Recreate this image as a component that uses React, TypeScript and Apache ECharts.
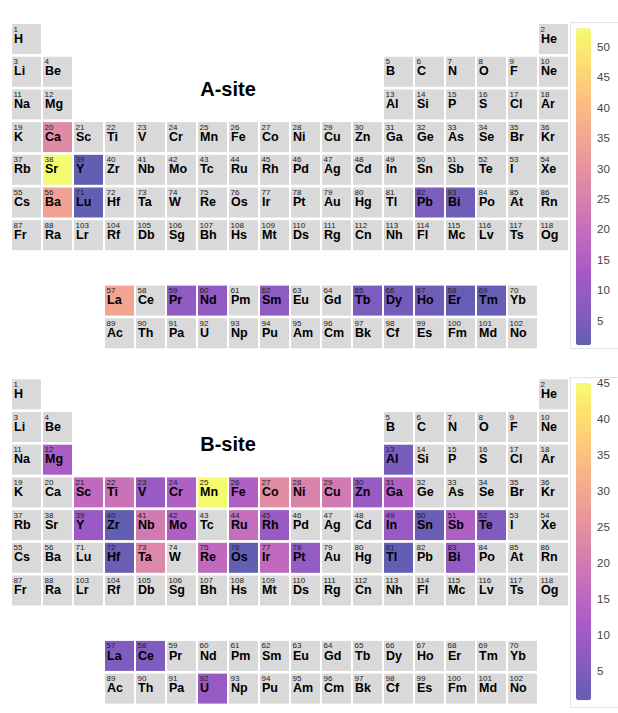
import React, { useEffect, useRef } from "react";
import * as echarts from "echarts";

// Element symbols, in order of atomic number 1..118
const SYMBOLS = [
  "H","He","Li","Be","B","C","N","O","F","Ne","Na","Mg","Al","Si","P","S","Cl","Ar",
  "K","Ca","Sc","Ti","V","Cr","Mn","Fe","Co","Ni","Cu","Zn","Ga","Ge","As","Se","Br","Kr",
  "Rb","Sr","Y","Zr","Nb","Mo","Tc","Ru","Rh","Pd","Ag","Cd","In","Sn","Sb","Te","I","Xe",
  "Cs","Ba","La","Ce","Pr","Nd","Pm","Sm","Eu","Gd","Tb","Dy","Ho","Er","Tm","Yb",
  "Lu","Hf","Ta","W","Re","Os","Ir","Pt","Au","Hg","Tl","Pb","Bi","Po","At","Rn",
  "Fr","Ra","Ac","Th","Pa","U","Np","Pu","Am","Cm","Bk","Cf","Es","Fm","Md","No",
  "Lr","Rf","Db","Sg","Bh","Hs","Mt","Ds","Rg","Cn","Nh","Fl","Mc","Lv","Ts","Og",
];

// A-site occurrence counts
const A_ELEMENTS = ["Ca","Sr","Ba","La","Y","Lu","Pb","Bi","Pr","Nd","Sm","Tb","Dy","Ho","Er","Tm"];
const A_COUNTS   = [28,  53,  34,  35,  1,  1,   5,   3,   9,   9,   8,   5,   4,   3,   2,   2];

// B-site occurrence counts
const B_ELEMENTS = ["Mg","Al","Sc","Ti","V","Cr","Mn","Fe","Co","Ni","Cu","Zn","Ga",
  "Y","Zr","Nb","Mo","Ru","Rh","In","Sn","Sb","Te",
  "Hf","Ta","Re","Os","Ir","Pt","Tl","Bi","La","Ce","U"];
const B_COUNTS = [12, 4, 16, 18, 9, 13, 45, 13, 24, 22, 20, 9, 13,
  9, 1, 20, 13, 17, 9, 9, 2, 13, 5,
  2, 23, 16, 1, 16, 8, 1, 8, 5, 5, 9];

const A_TICKS = [5, 10, 15, 20, 25, 30, 35, 40, 45, 50];
const B_TICKS = [5, 10, 15, 20, 25, 30, 35, 40, 45];
const A_RANGE = [1, 53];
const B_RANGE = [1, 45];

// plasma colour scale, shown at 0.65 opacity over white
const PLASMA = ["#625eb1","#875bc1","#a35ac6","#bf68c0","#d47db0","#e6929f","#f3a88f","#fcc17f","#fedd72","#f5fb6f"];

const GRAY = "#d9d9d9";
const FONT = '"Liberation Sans", Arial, Helvetica, sans-serif';

// group (column) and period (row) of an element in the table layout
function position(z: number): [number, number] {
  if (z === 1) return [1, 1];
  if (z === 2) return [18, 1];
  if (z <= 4) return [z - 2, 2];
  if (z <= 10) return [z + 8, 2];
  if (z <= 12) return [z - 10, 3];
  if (z <= 18) return [z, 3];
  if (z <= 36) return [z - 18, 4];
  if (z <= 54) return [z - 36, 5];
  if (z <= 56) return [z - 54, 6];
  if (z <= 70) return [z - 53, 9];
  if (z <= 86) return [z - 68, 6];
  if (z <= 88) return [z - 86, 7];
  if (z <= 102) return [z - 85, 10];
  return [z - 100, 7];
}

function cellRect(api: any) {
  const c = api.coord([api.value(0), api.value(1)]);
  const s = api.size([1, 1]);
  return { x: c[0] - s[0] / 2, y: c[1] - s[1] / 2, width: s[0] - 2, height: s[1] - 2.7 };
}

function buildTable(elements: string[], counts: number[], gridIndex: number) {
  const valued = elements.map((sym, i) => {
    const z = SYMBOLS.indexOf(sym) + 1;
    const [col, row] = position(z);
    return [col, row, counts[i]];
  });
  const all = SYMBOLS.map((sym, i) => {
    const [col, row] = position(i + 1);
    return [col, row, i + 1, elements.includes(sym) ? 1 : 0];
  });
  const colored = {
    type: "custom",
    xAxisIndex: gridIndex,
    yAxisIndex: gridIndex,
    data: valued,
    encode: { x: 0, y: 1 },
    renderItem: (params: any, api: any) => ({
      type: "rect",
      shape: cellRect(api),
      style: { fill: api.visual("color") },
    }),
  };
  const labels = {
    type: "custom",
    xAxisIndex: gridIndex,
    yAxisIndex: gridIndex,
    data: all,
    encode: { x: 0, y: 1 },
    renderItem: (params: any, api: any) => {
      const r = cellRect(api);
      const z = api.value(2);
      const has = api.value(3);
      const children: any[] = [];
      if (!has) children.push({ type: "rect", shape: r, style: { fill: GRAY } });
      children.push({
        type: "text",
        style: {
          text: String(z), x: r.x + 1.5, y: r.y + 5, font: `8px ${FONT}`,
          fill: "#222", align: "left", verticalAlign: "middle",
        },
      });
      children.push({
        type: "text",
        style: {
          text: SYMBOLS[z - 1], x: r.x + 2, y: r.y + 14.6, font: `bold 12.5px ${FONT}`,
          fill: "#000", align: "left", verticalAlign: "middle",
        },
      });
      return { type: "group", children };
    },
  };
  return [colored, labels];
}

export default function App() {
  const ref = useRef<HTMLDivElement>(null);
  useEffect(() => {
    if (!ref.current) return;
    const chart = echarts.init(ref.current, null, { renderer: "svg" });
    const tableTops = [24, 379.3];
    const barTops = [28.3, 383.3];
    const grids: any[] = [];
    const xAxes: any[] = [];
    const yAxes: any[] = [];
    tableTops.forEach((top, i) => {
      grids.push({ left: 12, top, width: 558, height: 327, outerBoundsMode: "none" });
      xAxes.push({ gridIndex: i, type: "value", min: 0.5, max: 18.5, show: false });
      yAxes.push({ gridIndex: i, type: "value", min: 0.5, max: 10.5, inverse: true, show: false });
    });
    const ranges = [A_RANGE, B_RANGE];
    const ticks = [A_TICKS, B_TICKS];
    barTops.forEach((top, i) => {
      grids.push({ left: 576, top, width: 15, height: 317, outerBoundsMode: "none" });
      xAxes.push({ gridIndex: 2 + i, type: "value", show: false });
      yAxes.push({
        gridIndex: 2 + i, type: "value", position: "right",
        min: ranges[i][0], max: ranges[i][1],
        axisLine: { show: false },
        splitLine: { show: false },
        axisTick: {
          show: true, inside: true, length: 4, customValues: ticks[i],
          lineStyle: { color: "rgba(255,255,255,0.75)", width: 1 },
        },
        axisLabel: {
          customValues: ticks[i], margin: 6, fontSize: 11.5, color: "#444", fontFamily: FONT,
        },
      });
    });

    const series = [
      ...buildTable(A_ELEMENTS, A_COUNTS, 0),
      ...buildTable(B_ELEMENTS, B_COUNTS, 1),
    ];

    const visualMap = [0, 1].map((i) => ({
      type: "continuous",
      min: ranges[i][0],
      max: ranges[i][1],
      dimension: 2,
      seriesIndex: i * 2,
      orient: "vertical",
      left: 576,
      top: barTops[i],
      itemWidth: 15,
      itemHeight: 317,
      padding: 0,
      calculable: false,
      hoverLink: false,
      text: null,
      inRange: { color: PLASMA },
    }));

    chart.setOption({
      animation: false,
      backgroundColor: "#ffffff",
      grid: grids,
      xAxis: xAxes,
      yAxis: yAxes,
      visualMap,
      series,
      graphic: [
        { type: "rect", shape: { x: 570.5, y: 22.5, width: 60, height: 326 }, style: { fill: "none", stroke: "#e3e3e3", lineWidth: 1 }, z: -1 },
        { type: "rect", shape: { x: 570.5, y: 377.5, width: 60, height: 330 }, style: { fill: "none", stroke: "#e3e3e3", lineWidth: 1 }, z: -1 },
        { type: "text", x: 228, y: 88.5, style: { text: "A-site", font: `bold 20px ${FONT}`, fill: "#000", align: "center", verticalAlign: "middle" } },
        { type: "text", x: 228, y: 443.7, style: { text: "B-site", font: `bold 20px ${FONT}`, fill: "#000", align: "center", verticalAlign: "middle" } },
      ],
    });
    return () => chart.dispose();
  }, []);
  return (
    <div
      ref={ref}
      style={{ position: "fixed", left: 0, top: 0, width: 618, height: 713, background: "#fff" }}
    />
  );
}
